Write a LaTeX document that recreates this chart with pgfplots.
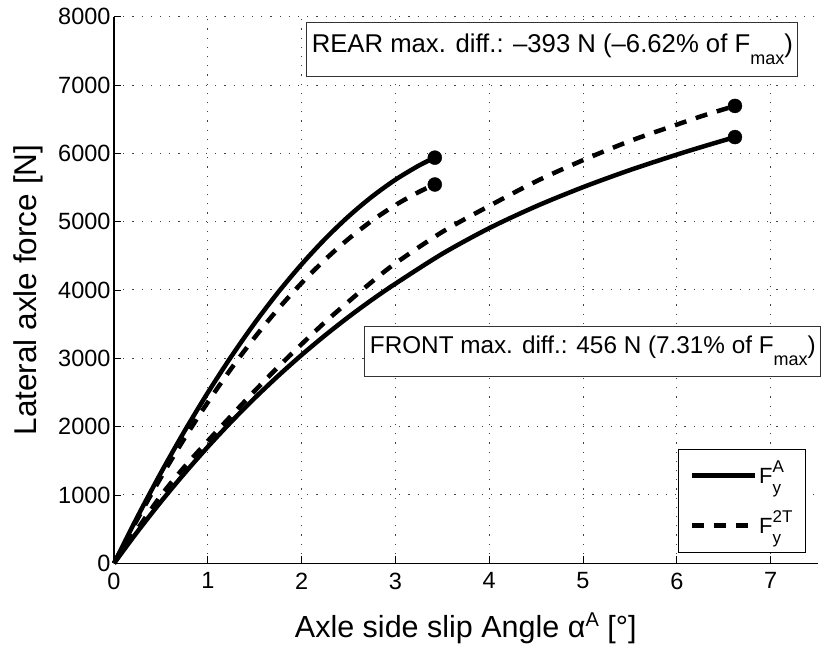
\documentclass[border=0pt]{standalone}
\usepackage{fontspec}
\setmainfont{Liberation Sans}
\usepackage{pgfplots}
\pgfplotsset{compat=1.18}

% F with stacked superscript / subscript
\newsavebox\supbox
\newsavebox\subbox
\newlength\sslen
\newcommand\Fss[2]{%
  F\sbox\supbox{\fontsize{17}{17}\selectfont #1}%
  \sbox\subbox{\fontsize{17}{17}\selectfont #2}%
  \setlength\sslen{\wd\supbox}%
  \ifdim\wd\subbox>\sslen\setlength\sslen{\wd\subbox}\fi
  \rlap{\raisebox{11pt}{\usebox\supbox}}%
  \rlap{\raisebox{-10pt}{\usebox\subbox}}\hspace*{\sslen}}
\newcommand\Fmax{F\raisebox{-12pt}{\fontsize{18}{18}\selectfont max}}

% lateral axle force vs. slip angle
\pgfplotstableread{
a     F
0     0
0.25  681
0.5   1324
0.75  1930
1.0   2497
1.25  3026
1.5   3516
1.75  3966
2.0   4376
2.25  4747
2.5   5077
2.75  5366
3.0   5614
3.25  5821
3.42  5937
}\rearA
\pgfplotstableread{
a     F
0     0
0.25  647
0.5   1256
0.75  1826
1.0   2357
1.25  2851
1.5   3306
1.75  3723
2.0   4102
2.25  4444
2.5   4748
2.75  5014
3.0   5243
3.25  5435
3.42  5544
}\rearT
\pgfplotstableread{
a     F
0     0
0.25  463
0.5   901
0.75  1314
1.0   1704
1.25  2072
1.5   2418
1.75  2743
2.0   3049
2.25  3336
2.5   3605
2.75  3857
3.0   4092
3.5   4530
4.0   4905
4.5   5225
5.0   5505
5.5   5755
6.0   5981
6.3   6108
6.62  6238
}\frontA
\pgfplotstableread{
a     F
0     0
0.25  500
0.5   990
0.75  1410
1.0   1790
1.25  2160
1.5   2523
1.75  2874
2.0   3207
2.25  3530
2.5   3830
2.75  4120
3.0   4390
3.5   4850
4.0   5230
4.5   5590
5.0   5900
5.5   6180
6.0   6420
6.3   6560
6.62  6694
}\frontT

\begin{document}
\begin{tikzpicture}
\begin{axis}[
  scale only axis, width=703.5pt, height=546.6pt,
  xmin=0, xmax=7.5, ymin=0, ymax=8000,
  clip=false,
  axis x line*=bottom, axis y line*=left,
  axis line style={-, line width=1.1pt, black},
  xtick={0,1,...,7}, ytick={0,1000,...,8000},
  scaled y ticks=false,
  /pgf/number format/set thousands separator={},
  /pgf/number format/assume math mode=true,
  tick align=inside, major tick length=7pt,
  tick style={black, line width=0.9pt},
  tick label style={font=\fontsize{23.5}{28}\selectfont},
  xticklabel style={yshift=-6pt},
  grid=major,
  grid style={black!75, line width=1pt, dash pattern=on 1.2pt off 8pt},
  every axis x label/.style={at={(axis description cs:0.5,-0.1357)}, anchor=base},
  every axis y label/.style={at={(axis description cs:-0.11,0.5)}, rotate=90, anchor=base},
  xlabel style={font=\fontsize{30.5}{36}\selectfont},
  ylabel style={font=\fontsize{31.5}{36}\selectfont},
  xlabel={Axle side slip Angle α\raisebox{11pt}{\fontsize{20}{20}\selectfont A} [°]},
  ylabel={Lateral axle force [N]},
  legend style={at={(rel axis cs:0.9837,0.0194)}, anchor=south east,
    draw=black, line width=1.1pt, fill=white,
    font=\fontsize{22}{26}\selectfont, row sep=17pt,
    inner xsep=11pt, inner ysep=10pt},
  legend cell align=left,
  legend image code/.code={\draw[#1] (0pt,0pt) -- (63pt,0pt);},
]
\addplot[black, line width=4.5pt, smooth] table[x=a, y=F] {\frontA};
\addlegendentry{\raisebox{4.7pt}{\Fss{A}{y}}}
\addplot[black, line width=4.5pt, dash pattern=on 12pt off 10pt, smooth] table[x=a, y=F] {\frontT};
\addlegendentry{\raisebox{4.7pt}{\Fss{2T}{y}}}
\addplot[black, line width=4.5pt, smooth, forget plot] table[x=a, y=F] {\rearA};
\addplot[black, line width=4.5pt, dash pattern=on 12pt off 10pt, smooth, forget plot] table[x=a, y=F] {\rearT};
% end points
\addplot[only marks, mark=*, mark size=7pt, black, forget plot] coordinates {(3.42,5937) (3.42,5544) (6.62,6238) (6.62,6694)};

\node[draw=black!80, line width=1pt, fill=white, inner xsep=5pt, minimum height=54pt,
      font=\fontsize{25.7}{30}\selectfont, anchor=center]
  at (axis cs:4.673,7527) {REAR max. diff.: –393 N (–6.62\% of \Fmax)};
\node[draw=black!80, line width=1pt, fill=white, inner xsep=5pt, minimum height=50pt,
      font=\fontsize{24.3}{30}\selectfont, anchor=center]
  at (axis cs:5.105,3107) {FRONT max. diff.: 456 N (7.31\% of \Fmax)};
\end{axis}
\pgfresetboundingbox
\path[use as bounding box] ([xshift=-114pt,yshift=-82.7pt]current axis.south west)
  rectangle ([xshift=16.5pt,yshift=16.7pt]current axis.north east);
\end{tikzpicture}
\end{document}
